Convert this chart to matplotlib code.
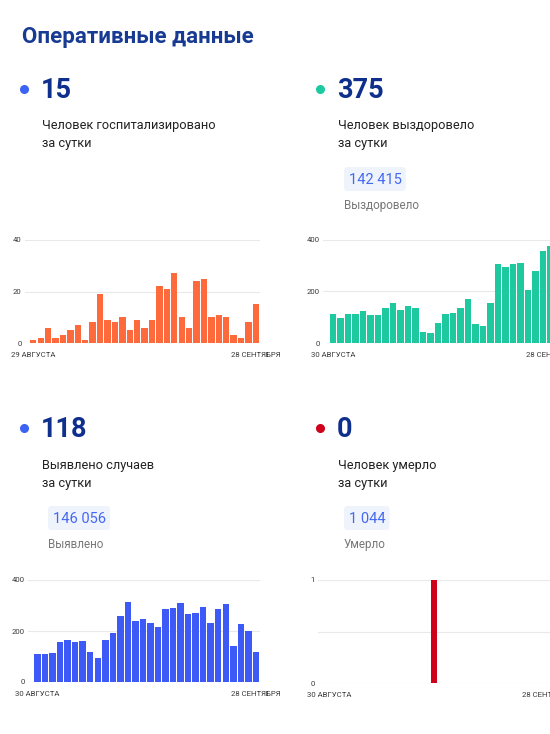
import matplotlib
matplotlib.use("Agg")
import matplotlib.pyplot as plt
from matplotlib.lines import Line2D
from matplotlib.patches import FancyBboxPatch

plt.rcParams['font.family'] = ['Roboto', 'DejaVu Sans']

# ---------------- data ----------------
hosp = [1, 2, 6, 2, 3, 5, 7, 1, 8, 19, 9, 8, 10, 5, 9, 6, 9, 22, 21, 27,
        10, 6, 24, 25, 10, 11, 10, 3, 2, 8, 15]
recovered = [112, 97, 114, 111, 123, 110, 110, 135, 157, 129, 145, 137, 44, 39,
             79, 114, 116, 135, 172, 72, 67, 155, 307, 297, 306, 310, 206, 279,
             357, 375]
cases = [111, 108, 113, 156, 164, 157, 161, 116, 94, 164, 193, 257, 315, 241,
         247, 233, 214, 285, 290, 309, 267, 271, 296, 231, 288, 307, 143, 228,
         199, 118]
deaths = [0] * 14 + [1] + [0] * 15

hosp_labels = ["29 АВГУСТА", "28 СЕНТЯБРЯ"]
other_labels = ["30 АВГУСТА", "28 СЕНТЯБРЯ"]
yt_small = [0, 20, 40]
yt_big = [0, 200, 400]
yt_death = [0, 0.5, 1]
yt_death_lab = ["0", "", "1"]

title = "Оперативные данные"
blocks = [
    dict(num="15", l1="Человек госпитализировано", l2="за сутки",
         total=None, sub=None, dot="#3d63f5"),
    dict(num="375", l1="Человек выздоровело", l2="за сутки",
         total="142 415", sub="Выздоровело", dot="#1dc9a0"),
    dict(num="118", l1="Выявлено случаев", l2="за сутки",
         total="146 056", sub="Выявлено", dot="#3d63f5"),
    dict(num="0", l1="Человек умерло", l2="за сутки",
         total="1 044", sub="Умерло", dot="#d0021b"),
]

W, H = 550, 734
fig = plt.figure(figsize=(W / 100, H / 100), dpi=100)
fig.patch.set_facecolor("white")


def fx(x):
    return x / W


def fy(y):
    return 1 - y / H


DARK = "#0f2f8c"
TXT = "#222222"

fig.text(fx(22), fy(43), title, fontsize=16, fontweight="bold",
         color="#173a93", va="baseline", ha="left")

# header blocks
origins = [(0, 0), (296, 0), (0, 339), (296, 339)]
for b, (ox, oy) in zip(blocks, origins):
    fig.add_artist(Line2D([fx(24 + ox)], [fy(89 + oy)], marker="o",
                          markersize=5.5, color=b["dot"], linestyle="none",
                          transform=fig.transFigure))
    fig.text(fx(41 + ox), fy(98 + oy), b["num"], fontsize=19.5,
             fontweight="bold", color=DARK, va="baseline")
    fig.text(fx(42 + ox), fy(129.5 + oy), b["l1"], fontsize=9.2, color=TXT,
             va="baseline")
    fig.text(fx(42 + ox), fy(147.5 + oy), b["l2"], fontsize=9.2, color=TXT,
             va="baseline")
    if b["total"]:
        t = fig.text(fx(53 + ox), fy(184 + oy), b["total"],
                     fontsize=10.5, color="#4568f2", va="baseline")
        fig.canvas.draw()
        bb = t.get_window_extent()
        x0 = bb.x0 - 5
        wpx = bb.width + 9
        box = FancyBboxPatch((fx(x0), fy(191 + oy)), fx(wpx), 24 / H,
                             boxstyle="round,pad=0,rounding_size=0.006",
                             fc="#eef3fc", ec="none",
                             transform=fig.transFigure, zorder=0)
        fig.add_artist(box)
        fig.text(fx(48 + ox), fy(209 + oy), b["sub"], fontsize=8.4,
                 color="#777777", va="baseline")


def make_chart(values, color, ax_left, ax_right, first_center, spacing,
               top, bottom, yticks, ylabels, ymax, xlabels, bar_w=0.86):
    n = len(values)
    ax = fig.add_axes([fx(ax_left), fy(bottom), fx(ax_right - ax_left),
                       (bottom - top) / H])
    ax.set_facecolor("none")
    x = list(range(n))
    ax.bar(x, values, width=bar_w, color=color, zorder=3)
    lo = -(first_center - ax_left) / spacing
    hi = lo + (ax_right - ax_left) / spacing
    ax.set_xlim(lo, hi)
    ax.set_ylim(0, ymax)
    for s in ax.spines.values():
        s.set_visible(False)
    ax.set_yticks(yticks)
    ax.set_yticklabels(ylabels)
    ax.grid(axis="y", color="#e9e9e9", linewidth=0.8, zorder=0)
    ax.set_xticks([0, n - 1])
    ax.set_xticklabels(xlabels)
    ax.tick_params(axis="both", length=0, labelsize=5.6, labelcolor="#3a3a3a")
    ax.tick_params(axis="y", pad=2.5)
    ax.tick_params(axis="x", pad=6.5)
    return ax


make_chart(hosp, "#ff6a3d", 25, 260, 33.3, 7.42, 240, 343,
           yt_small, [str(v) for v in yt_small], 40, hosp_labels)
make_chart(recovered, "#1ec9a0", 323, 600, 333, 7.5, 240, 343,
           yt_big, [str(v) for v in yt_big], 400, other_labels)
make_chart(cases, "#3d5af7", 28, 260, 37.5, 7.53, 580, 682,
           yt_big, [str(v) for v in yt_big], 400, other_labels)
make_chart(deaths, "#d0021b", 318, 600, 329, 7.5, 580, 683,
           yt_death, yt_death_lab, 1, other_labels)

fig.savefig("out.png", dpi=100)
